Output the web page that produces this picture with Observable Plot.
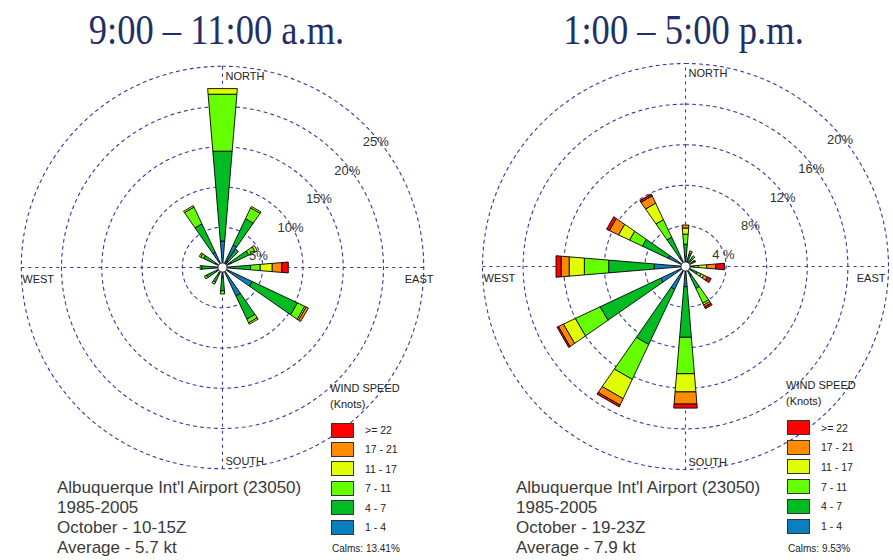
<!DOCTYPE html>
<html>
<head>
<meta charset="utf-8">
<script src="https://cdn.jsdelivr.net/npm/d3@7"></script>
<script src="https://cdn.jsdelivr.net/npm/@observablehq/plot@0.6"></script>
<style>
  html, body { margin: 0; padding: 0; background: #fff; }
  #page { position: relative; width: 893px; height: 560px; overflow: hidden; background: #fff; font-family: "Liberation Sans", Arial, sans-serif; }
  .title { position: absolute; top: 8px; width: 433px; text-align: center; font-family: "Liberation Serif", "Times New Roman", serif; font-size: 43px; line-height: 43px; color: #1f3068; transform: scaleX(0.85); transform-origin: center; white-space: nowrap; }
  .info { position: absolute; font-size: 17px; line-height: 20px; color: #3a3a3a; white-space: nowrap; }
  .leg { position: absolute; font-size: 10.5px; color: #222; white-space: nowrap; line-height: 12px; }
  .sw { position: absolute; width: 21px; height: 13px; border: 1px solid #333; }
  .plotbox { position: absolute; top: 0; }
</style>
</head>
<body>
<div id="page"></div>
<script>
// ---------------- data ----------------
const speedLabels = [">= 22", "17 - 21", "11 - 17", "7 - 11", "4 - 7", "1 - 4"];
const speedColors = ["#ff0000", "#ff8c00", "#e0ff00", "#66ff00", "#00bb22", "#0a7fc0"];

const compassLabels = ["NORTH", "EAST", "SOUTH", "WEST"];

// Morning rose (9:00 - 11:00 a.m.), percent of observations per direction (degrees)
const dirsAM   = [0,    30,  40,  60,  90,  120, 150, 180, 210, 240, 270, 300, 330];
const am_1_4   = [3.3,  3.1, 1.0, 1.2, 1.0, 4.1, 3.9, 1.2, 0.8, 0.8, 1.0, 1.0, 2.1];
const am_4_7   = [11.2, 3.6, 1.8, 2.4, 2.5, 6.2, 3.2, 1.7, 1.2, 1.4, 1.6, 1.6, 3.9];
const am_7_11  = [7.1,  1.5, 0,   0.9, 1.2, 1.0, 0.5, 0.4, 0.3, 0.3, 0.2, 0.4, 2.3];
const am_11_17 = [0.7,  0.2, 0,   0.3, 1.5, 0.2, 0.2, 0,   0,   0,   0,   0.2, 0.2];
const am_17_21 = [0,    0,   0,   0,   1.2, 0.3, 0,   0,   0,   0,   0,   0,   0];
const am_22    = [0,    0,   0,   0,   0.8, 0,   0,   0,   0,   0,   0,   0,   0];
const amTicks = [5, 10, 15, 20, 25];
const amTickLabels = ["5%", "10%", "15%", "20%", "25%"];
const amTitle = "9:00 \u2013 11:00 a.m.";
const amInfo = ["Albuquerque Int'l Airport (23050)", "1985-2005", "October - 10-15Z", "Average - 5.7 kt"];
const amCalms = "Calms: 13.41%";

// Afternoon rose (1:00 - 5:00 p.m.)
const dirsPM   = [0,   20,  40,  60,  90,   120, 150, 180,  210, 240,  270, 300, 330];
const pm_1_4   = [1.0, 0.5, 0.5, 0.4, 0.3,  0.5, 1.0, 2.0,  2.5, 2.7,  3.1, 1.9, 1.0];
const pm_4_7   = [1.2, 0.7, 0.5, 0.5, 0.5,  0.8, 1.4, 5.0,  6.0, 6.6,  4.5, 2.8, 2.2];
const pm_7_11  = [1.0, 0.2, 0.3, 0.1, 0.5,  0.4, 1.6, 3.6,  3.8, 2.7,  2.4, 1.4, 1.9];
const pm_11_17 = [0.6, 0.2, 0,   0.1, 0.8,  0.3, 0.2, 1.8,  2.1, 1.3,  1.5, 1.2, 1.8];
const pm_17_21 = [0.3, 0,   0,   0,   0.9,  0.4, 0.2, 1.2,  0.7, 0.55, 0.8, 1.0, 0.8];
const pm_22    = [0,   0,   0,   0,   0.85, 0.4, 0.2, 0.4,  0.2, 0.15, 0.5, 0.3, 0.2];
const pmTicks = [4, 8, 12, 16, 20];
const pmTickLabels = ["4 %", "8%", "12%", "16%", "20%"];
const pmTitle = "1:00 \u2013 5:00 p.m.";
const pmInfo = ["Albuquerque Int'l Airport (23050)", "1985-2005", "October - 19-23Z", "Average - 7.9 kt"];
const pmCalms = "Calms: 9.53%";

// ---------------- drawing ----------------
const page = document.getElementById("page");
const gridColor = "#3636a4";

function rose({W, H, cx, cy, k, dirs, classes, ticks, tickLabels, eastAnchor, eastDx}) {
  const R = d3.max(ticks);
  const hole = 4.5 / k;
  const half = 4.75 * Math.PI / 180;
  const classNames = speedLabels.slice().reverse(); // inner -> outer
  const segs = [];
  dirs.forEach((d, i) => {
    let cum = 0;
    classes.forEach((vals, j) => {
      const v = vals[i];
      const r0 = Math.max(cum, hole), r1 = cum + v;
      cum = r1;
      if (!(v > 0) || r1 <= hole) return;
      const t = d * Math.PI / 180;
      const id = i + "-" + j;
      for (const [r, a] of [[r0, t - half], [r1, t - half], [r1, t + half], [r0, t + half], [r0, t - half]]) {
        segs.push({id, cls: classNames[j], x: r * Math.sin(a), y: r * Math.cos(a)});
      }
    });
  });
  const rings = [];
  for (const v of ticks) for (let a = 0; a <= 360; a += 2) {
    const t = a * Math.PI / 180;
    rings.push({ring: v, x: v * Math.sin(t), y: v * Math.cos(t)});
  }
  const axes = [{x1: -R, y1: 0, x2: R, y2: 0}, {x1: 0, y1: -R, x2: 0, y2: R}];
  const c45 = Math.SQRT1_2;
  const tickPts = ticks.map((v, i) => ({x: v * c45, y: v * c45, text: tickLabels[i]}));
  const txt = {fontSize: 11, fill: "#222", fontFamily: "Liberation Sans, Arial, sans-serif"};
  return Plot.plot({
    width: W, height: H, margin: 0,
    x: {domain: [-cx / k, (W - cx) / k], axis: null},
    y: {domain: [-(H - cy) / k, cy / k], axis: null},
    color: {type: "ordinal", domain: speedLabels, range: speedColors},
    style: {background: "transparent", overflow: "visible"},
    marks: [
      Plot.line(rings, {x: "x", y: "y", z: "ring", stroke: gridColor, strokeWidth: 1.1, strokeDasharray: "3,4"}),
      Plot.link(axes, {x1: "x1", y1: "y1", x2: "x2", y2: "y2", stroke: gridColor, strokeWidth: 1.1, strokeDasharray: "3,4"}),
      Plot.line(segs, {x: "x", y: "y", z: "id", fill: "cls", stroke: "#000", strokeWidth: 0.9, strokeLinejoin: "miter", strokeLinecap: "butt"}),
      Plot.dot([{x: 0, y: 0}], {x: "x", y: "y", r: 4.5, fill: "white", stroke: "#000", strokeWidth: 0.7}),
      Plot.text(tickPts, {x: "x", y: "y", text: "text", textAnchor: "start", dx: -2, dy: 17, fontSize: 13, fill: "#333", fontFamily: "Liberation Sans, Arial, sans-serif"}),
      Plot.text([{x: 0, y: R}], {x: "x", y: "y", text: () => compassLabels[0], textAnchor: "start", dx: 3, dy: 10, ...txt}),
      Plot.text([{x: R, y: 0}], {x: "x", y: "y", text: () => compassLabels[1], textAnchor: eastAnchor, dx: eastDx, dy: 12, ...txt}),
      Plot.text([{x: 0, y: -R}], {x: "x", y: "y", text: () => compassLabels[2], textAnchor: "start", dx: 3, dy: -7, ...txt}),
      Plot.text([{x: -R, y: 0}], {x: "x", y: "y", text: () => compassLabels[3], textAnchor: "start", dx: 1, dy: 12, ...txt})
    ]
  });
}

function place(el, left) {
  const box = document.createElement("div");
  box.className = "plotbox";
  box.style.left = left + "px";
  box.appendChild(el);
  page.appendChild(box);
}

place(rose({W: 446, H: 560, cx: 222, cy: 267, k: 8.05, dirs: dirsAM,
  classes: [am_1_4, am_4_7, am_7_11, am_11_17, am_17_21, am_22], ticks: amTicks, tickLabels: amTickLabels,
  eastAnchor: "start", eastDx: -19}), 0);
place(rose({W: 447, H: 560, cx: 239, cy: 266, k: 10.15, dirs: dirsPM,
  classes: [pm_1_4, pm_4_7, pm_7_11, pm_11_17, pm_17_21, pm_22], ticks: pmTicks, tickLabels: pmTickLabels,
  eastAnchor: "end", eastDx: -3}), 446);

function addDiv(cls, text, style) {
  const d = document.createElement("div");
  d.className = cls;
  d.textContent = text;
  Object.assign(d.style, style);
  page.appendChild(d);
  return d;
}

// titles
addDiv("title", amTitle, {left: "0px"});
addDiv("title", pmTitle, {left: "467px"});

// station info
amInfo.forEach((t, i) => addDiv("info", t, {left: "57px", top: (478 + i * 20) + "px"}));
pmInfo.forEach((t, i) => addDiv("info", t, {left: "516px", top: (478 + i * 20) + "px"}));

// legends
function legend(x0, headY, rowY, rowStep, calms) {
  addDiv("leg", "WIND SPEED", {left: x0 + "px", top: (headY - 6) + "px", fontSize: "11px"});
  addDiv("leg", "(Knots)", {left: x0 + "px", top: (headY + 10) + "px", fontSize: "11px"});
  speedLabels.forEach((lab, i) => {
    const cy = rowY + i * rowStep;
    const s = document.createElement("div");
    s.className = "sw";
    Object.assign(s.style, {left: (x0 + 1) + "px", top: (cy - 7.5) + "px", background: speedColors[i]});
    page.appendChild(s);
    addDiv("leg", lab, {left: (x0 + 35) + "px", top: (cy - 6) + "px"});
  });
  addDiv("leg", calms, {left: (x0 + 2) + "px", top: "543px", fontSize: "10px"});
}
legend(330, 388, 430, 19.4, amCalms);
legend(786, 385, 427.5, 19.7, pmCalms);
</script>
</body>
</html>
